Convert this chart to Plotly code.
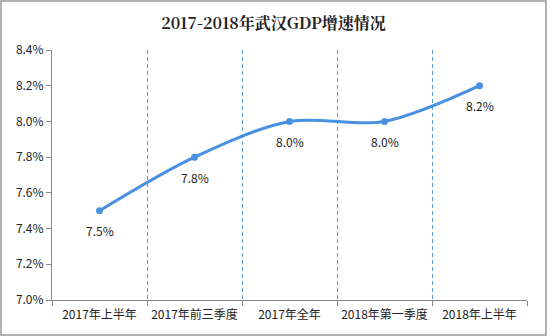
import plotly.graph_objects as go

categories = ["2017年上半年", "2017年前三季度", "2017年全年", "2018年第一季度", "2018年上半年"]
growth = [7.5, 7.8, 8.0, 8.0, 8.2]
labels = ["7.5%", "7.8%", "8.0%", "8.0%", "8.2%"]
title = "2017-2018年武汉GDP增速情况"

W, H = 547, 336
ml, mr, mt, mb = 52, 20, 50, 36

fig = go.Figure()
fig.add_trace(go.Scatter(
    x=categories, y=growth, mode="lines+markers",
    line=dict(color="#4a90e2", width=3, shape="spline", smoothing=0.9),
    marker=dict(color="#4a90e2", size=7),
    cliponaxis=False, hoverinfo="skip",
))
for c, v, t in zip(categories, growth, labels):
    fig.add_annotation(x=c, y=v, text=t, showarrow=False, yshift=-20,
                       font=dict(family="Noto Sans CJK SC", size=12, color="#222"))

pw = W - ml - mr
ph = H - mt - mb
fig.add_shape(type="rect", xref="paper", yref="paper",
              x0=-(ml - 1) / pw, x1=1 + (mr - 1) / pw,
              y0=-(mb - 1) / ph, y1=1 + (mt - 1) / ph,
              line=dict(color="#999", width=1.5), layer="below")

fig.update_layout(
    width=W, height=H, margin=dict(l=ml, r=mr, t=mt, b=mb, autoexpand=False),
    paper_bgcolor="white", plot_bgcolor="white", showlegend=False,
    title=dict(text="<b>" + title + "</b>", x=0.5, xanchor="center", y=0.93, yanchor="middle",
               font=dict(family="Noto Serif CJK SC, Noto Sans CJK SC", size=16, color="#222")),
    font=dict(family="Noto Sans CJK SC", size=12, color="#222"),
    xaxis=dict(type="category", tickson="boundaries", showgrid=True, griddash="4px,3px",
               gridcolor="#5b9bd5", gridwidth=1, showline=True, linecolor="#888",
               ticks="outside", ticklen=5, tickcolor="#888", tickangle=0,
               ticklabelstandoff=4,
               tickfont=dict(size=12), range=[-0.5, 4.5], zeroline=False),
    yaxis=dict(range=[7.0, 8.4], dtick=0.2, tickformat=".1f", ticksuffix="%",
               showgrid=False, showline=True, linecolor="#888", ticks="outside",
               ticklen=5, tickcolor="#888", zeroline=False, tickfont=dict(size=12)),
)
fig.write_html("out.html")
